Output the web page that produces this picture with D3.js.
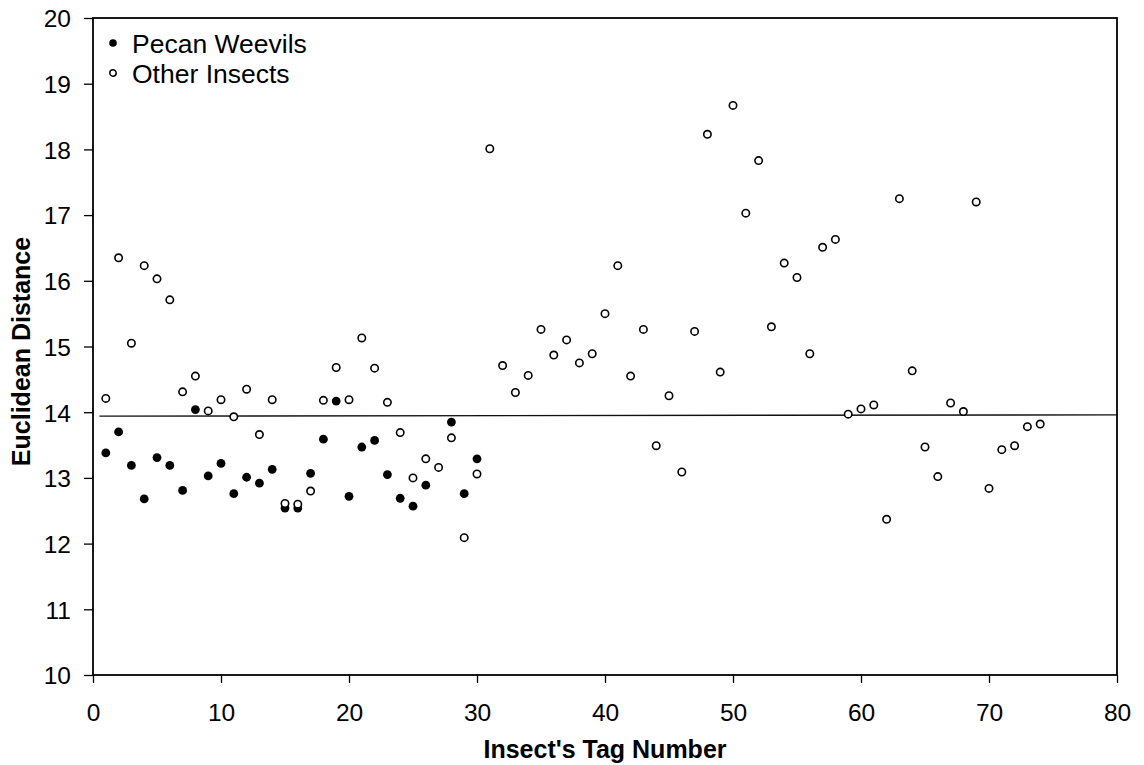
<!DOCTYPE html>
<html>
<head>
<meta charset="utf-8">
<script src="https://cdn.jsdelivr.net/npm/d3@7/dist/d3.min.js"></script>
<style>
  html, body { margin: 0; padding: 0; background: #fff; }
  svg text { font-family: Arial, "Liberation Sans", sans-serif; fill: #000; }
</style>
</head>
<body>
<svg id="chart" width="1144" height="765"></svg>
<script>
// tag numbers and distances
var pecanTags = [1,2,3,4,5,6,7,8,9,10,11,12,13,14,15,16,17,18,19,20,21,22,23,24,25,26,28,29,30];
var pecanDist = [13.38,13.70,13.19,12.68,13.31,13.19,12.81,14.04,13.03,13.22,12.76,13.01,12.92,13.13,12.54,
                 12.54,13.07,13.59,14.17,12.72,13.47,13.57,13.05,12.69,12.57,12.89,13.85,12.76,13.29];

var otherTags = d3.range(1, 75);
var otherDist = [14.21,16.35,15.05,16.23,16.03,15.71,14.31,14.55,14.02,14.19,13.93,14.35,13.66,14.19,12.61,
                 12.60,12.80,14.18,14.68,14.19,15.13,14.67,14.15,13.69,13.00,13.29,13.16,13.61,12.09,13.06,
                 18.01,14.71,14.30,14.56,15.26,14.87,15.10,14.75,14.89,15.50,16.23,14.55,15.26,13.49,14.25,
                 13.09,15.23,18.23,14.61,18.67,17.03,17.83,15.30,16.27,16.05,14.89,16.51,16.63,13.97,14.05,
                 14.11,12.37,17.25,14.63,13.47,13.02,14.14,14.01,17.20,12.84,13.43,13.49,13.78,13.82];

// reference line (start and end)
var lineX = [0.5, 80];
var lineY = [13.94, 13.96];

var xTicks = [0,10,20,30,40,50,60,70,80];
var yTicks = [10,11,12,13,14,15,16,17,18,19,20];

var seriesNames = ["Pecan Weevils", "Other Insects"];

(function(){
  var svg = d3.select('#chart');
  var m = {left: 93, right: 1117, top: 18, bottom: 675};

  var x = d3.scaleLinear().domain([0, 80]).range([m.left, m.right]);
  var y = d3.scaleLinear().domain([10, 20]).range([m.bottom, m.top]);

  // frame
  svg.append('rect').attr('x', m.left).attr('y', m.top)
    .attr('width', m.right - m.left).attr('height', m.bottom - m.top)
    .attr('fill', 'none').attr('stroke', '#000').attr('stroke-width', 1.8);

  // axes
  var xAxis = d3.axisBottom(x).tickValues(xTicks).tickSize(8).tickPadding(27).tickFormat(d3.format('d'));
  var gx = svg.append('g').attr('transform', 'translate(0,' + m.bottom + ')').call(xAxis);
  gx.select('.domain').remove();
  gx.selectAll('line').attr('stroke', '#000').attr('stroke-width', 1.3);
  gx.selectAll('text').attr('font-size', '24.5px').attr('dy', '0.45em');

  var yAxis = d3.axisLeft(y).tickValues(yTicks).tickSize(9).tickPadding(13).tickFormat(d3.format('d'));
  var gy = svg.append('g').attr('transform', 'translate(' + m.left + ',0)').call(yAxis);
  gy.select('.domain').remove();
  gy.selectAll('line').attr('stroke', '#000').attr('stroke-width', 1.3);
  gy.selectAll('text').attr('font-size', '24.5px').attr('dy', '0.36em');

  // reference line
  svg.append('line')
    .attr('x1', x(lineX[0])).attr('y1', y(lineY[0]))
    .attr('x2', x(lineX[1])).attr('y2', y(lineY[1]))
    .attr('stroke', '#111').attr('stroke-width', 1.4);

  // points
  svg.append('g').selectAll('circle').data(pecanTags).join('circle')
    .attr('cx', function(d){ return x(d); })
    .attr('cy', function(d, i){ return y(pecanDist[i]); })
    .attr('r', 4.4).attr('fill', '#000');

  svg.append('g').selectAll('circle').data(otherTags).join('circle')
    .attr('cx', function(d){ return x(d); })
    .attr('cy', function(d, i){ return y(otherDist[i]); })
    .attr('r', 3.7).attr('fill', '#fff').attr('stroke', '#000').attr('stroke-width', 1.6);

  // legend
  var lg = svg.append('g').attr('transform', 'translate(113,43)');
  lg.append('circle').attr('cx', 0).attr('cy', 0).attr('r', 3.8).attr('fill', '#000');
  lg.append('circle').attr('cx', 0).attr('cy', 30).attr('r', 3.2).attr('fill', '#fff').attr('stroke', '#000').attr('stroke-width', 1.5);
  lg.selectAll('text').data(seriesNames).join('text')
    .attr('x', 19).attr('y', function(d, i){ return 10 + i * 30; })
    .attr('font-size', '26.5px').text(function(d){ return d; });

  // axis titles
  svg.append('text').attr('x', (m.left + m.right) / 2).attr('y', 758)
    .attr('text-anchor', 'middle').attr('font-size', '25px').attr('font-weight', 'bold')
    .text("Insect's Tag Number");
  svg.append('text').attr('transform', 'translate(30,' + ((m.top + m.bottom) / 2 + 5) + ') rotate(-90)')
    .attr('text-anchor', 'middle').attr('font-size', '25px').attr('font-weight', 'bold')
    .text('Euclidean Distance');
})();
</script>
</body>
</html>
